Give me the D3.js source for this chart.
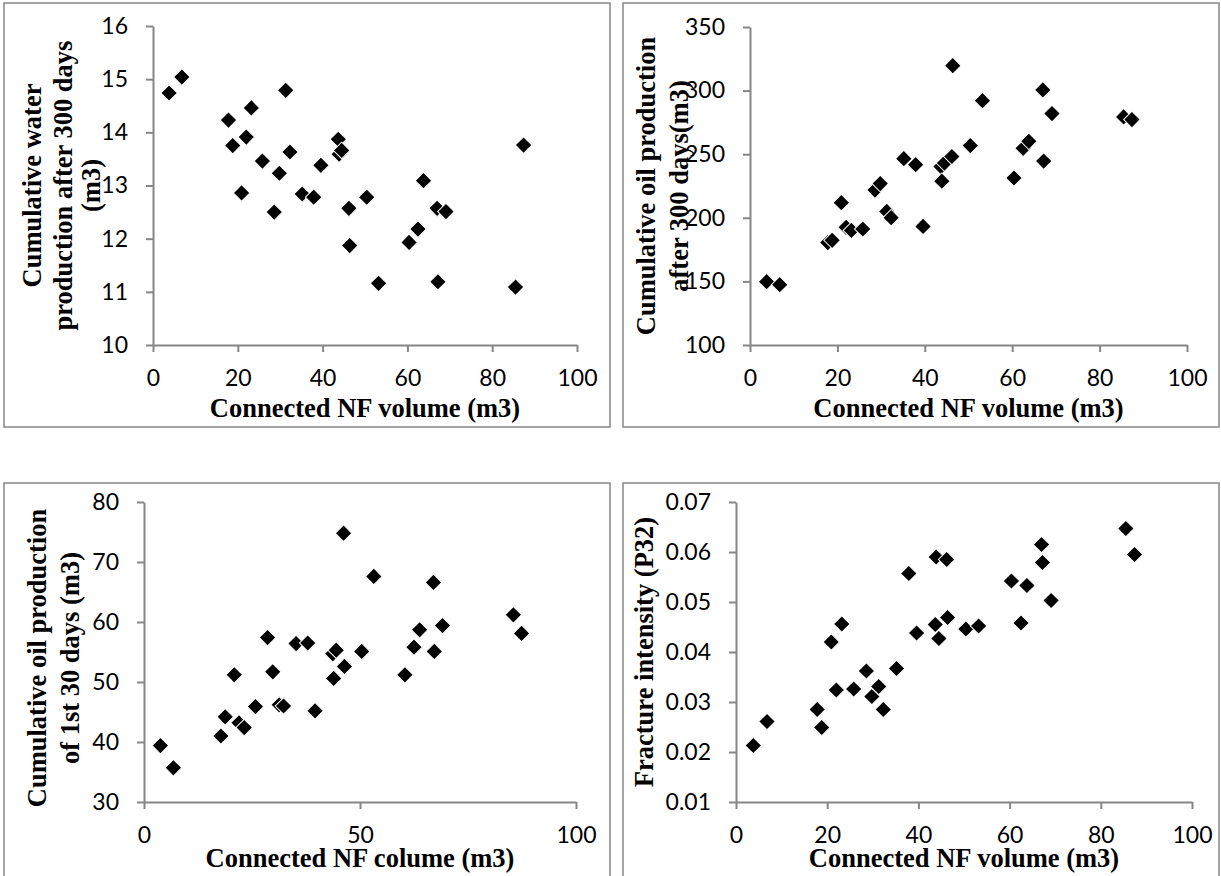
<!DOCTYPE html>
<html>
<head>
<meta charset="utf-8">
<script src="https://cdn.jsdelivr.net/npm/d3@7"></script>
<style>
  body { margin: 0; background: #fff; }
  .tick text { font-family: Lato, "Open Sans", sans-serif; font-size: 23px; fill: #000; }
  .title { font-family: "Liberation Serif", "Times New Roman", serif; font-weight: bold; font-size: 26.5px; fill: #000; }
</style>
</head>
<body>
<div id="chart"></div>
<script>
// Connected NF volume (m3), one value per well, same order in every panel
var nfVolume = [3.8, 6.8, 17.8, 18.8, 20.9, 22.0, 23.2, 25.8, 28.6, 29.8,
                31.3, 32.3, 35.2, 37.9, 39.6, 43.7, 43.9, 44.5, 46.2, 46.4,
                50.4, 53.2, 60.4, 62.5, 63.8, 67.0, 67.2, 69.1, 85.5, 87.4];

var waterCum300 = [14.74, 15.04, 14.23, 13.75, 12.86, 13.91, 14.46, 13.46, 12.50, 13.23,
                   14.79, 13.63, 12.84, 12.78, 13.38, 13.87, 13.59, 13.66, 12.57, 11.87,
                   12.78, 11.16, 11.93, 12.18, 13.09, 12.57, 11.19, 12.51, 11.09, 13.76];

var oilCum300 = [149.8, 147.4, 180.5, 182.3, 211.9, 192.5, 190.1, 191.2, 221.8, 226.9,
                 205.0, 200.1, 246.5, 241.8, 193.2, 240.3, 228.8, 243.0, 248.2, 319.6,
                 256.8, 292.1, 231.3, 254.6, 260.1, 300.5, 244.6, 281.9, 279.3, 277.2];

var oilCum30 = [39.4, 35.7, 41.0, 44.2, 51.2, 43.2, 42.4, 45.9, 57.4, 51.7,
                46.2, 46.0, 56.4, 56.5, 45.2, 54.7, 50.6, 55.3, 74.8, 52.6,
                55.1, 67.6, 51.2, 55.8, 58.7, 66.6, 55.1, 59.4, 61.2, 58.1];

var fractureP32 = [0.0213, 0.0261, 0.0285, 0.0249, 0.0420, 0.0324, 0.0456, 0.0326, 0.0362, 0.0311,
                   0.0331, 0.0285, 0.0367, 0.0557, 0.0438, 0.0455, 0.0590, 0.0427, 0.0585, 0.0469,
                   0.0446, 0.0452, 0.0542, 0.0458, 0.0533, 0.0615, 0.0579, 0.0503, 0.0647, 0.0595];

// Tick labels
var xTicks20 = [0, 20, 40, 60, 80, 100];
var xTicks50 = [0, 50, 100];
var waterTicks = [10, 11, 12, 13, 14, 15, 16];
var oil300Ticks = [100, 150, 200, 250, 300, 350];
var oil30Ticks = [30, 40, 50, 60, 70, 80];
var p32Ticks = [0.01, 0.02, 0.03, 0.04, 0.05, 0.06, 0.07];

var axisColor = '#868686',
    frameColor = '#8e8e8e';

var svg = d3.select('#chart').append('svg')
    .attr('width', 1221)
    .attr('height', 876);

svg.append('rect').attr('width', 1221).attr('height', 876).attr('fill', '#fff');

// Excel style diamond: a square turned 45 degrees
var diamond = d3.symbol().type(d3.symbolSquare).size(138);

/* One scatter panel, with its frame, axes and titles */
function panel(o) {
    var g = svg.append('g');

    g.append('rect')
        .attr('x', o.frame[0]).attr('y', o.frame[1])
        .attr('width', o.frame[2]).attr('height', o.frame[3])
        .attr('fill', 'none')
        .attr('stroke', frameColor)
        .attr('stroke-width', 1.6);

    var x = d3.scaleLinear().domain([0, 100]).range(o.xRange);
    var y = d3.scaleLinear().domain(d3.extent(o.yTicks)).range(o.yRange);

    var xAxis = d3.axisBottom(x)
        .tickValues(o.xTicks)
        .tickSize(7)
        .tickSizeOuter(0)
        .tickPadding(18);

    var yAxis = d3.axisLeft(y)
        .tickValues(o.yTicks)
        .tickSize(7)
        .tickSizeOuter(0)
        .tickPadding(18)
        .tickFormat(o.yFormat || d3.format('d'));

    var gx = g.append('g')
        .attr('transform', 'translate(0,' + o.yRange[0] + ')')
        .call(xAxis);
    var gy = g.append('g')
        .attr('transform', 'translate(' + o.xRange[0] + ',0)')
        .call(yAxis);

    [gx, gy].forEach(function (a) {
        a.select('.domain').attr('stroke', axisColor).attr('stroke-width', 2);
        a.selectAll('.tick line').attr('stroke', axisColor).attr('stroke-width', 2);
    });

    // Markers
    g.selectAll('path.pt')
        .data(nfVolume)
        .enter()
        .append('path')
        .attr('class', 'pt')
        .attr('d', diamond)
        .attr('transform', function (d, i) {
            return 'translate(' + x(d) + ',' + y(o.values[i]) + ') rotate(45)';
        })
        .attr('fill', '#000')
        .attr('stroke', '#fff')
        .attr('stroke-width', 1);

    // X title
    g.append('text')
        .attr('class', 'title')
        .attr('x', (o.xRange[0] + o.xRange[1]) / 2)
        .attr('y', o.xTitleY)
        .attr('text-anchor', 'middle')
        .text(o.xTitle);

    // Y title lines (rotated)
    var cy = (o.yRange[0] + o.yRange[1]) / 2 + (o.yTitleShift || 0);
    o.yTitle.forEach(function (line, i) {
        g.append('text')
            .attr('class', 'title')
            .attr('text-anchor', 'middle')
            .attr('transform', 'translate(' + o.yTitleX[i] + ',' + cy + ') rotate(-90)')
            .text(line);
    });
}

panel({
    frame: [4, 3, 606, 424],
    xRange: [153, 577], yRange: [345, 26],
    xTicks: xTicks20, yTicks: waterTicks,
    values: waterCum300,
    xTitle: 'Connected NF volume (m3)', xTitleY: 417,
    yTitle: ['Cumulative water', 'production after 300 days', '(m3)'],
    yTitleX: [41, 72, 100]
});

panel({
    frame: [623, 3, 596, 424],
    xRange: [750, 1187], yRange: [345, 27],
    xTicks: xTicks20, yTicks: oil300Ticks,
    values: oilCum300,
    xTitle: 'Connected NF volume (m3)', xTitleY: 417,
    yTitle: ['Cumulative oil production', 'after 300 days(m3)'],
    yTitleX: [655, 688]
});

panel({
    frame: [4, 483, 606, 400],
    xRange: [144, 576], yRange: [802, 502],
    xTicks: xTicks50, yTicks: oil30Ticks,
    values: oilCum30,
    xTitle: 'Connected NF colume (m3)', xTitleY: 867,
    yTitle: ['Cumulative oil production', 'of 1st 30 days (m3)'],
    yTitleX: [46, 79], yTitleShift: 6
});

panel({
    frame: [623, 483, 596, 400],
    xRange: [736, 1192], yRange: [802, 502],
    xTicks: xTicks20, yTicks: p32Ticks,
    values: fractureP32,
    yFormat: d3.format('.2f'),
    xTitle: 'Connected NF volume (m3)', xTitleY: 867,
    yTitle: ['Fracture intensity (P32)'],
    yTitleX: [653]
});
</script>
</body>
</html>
